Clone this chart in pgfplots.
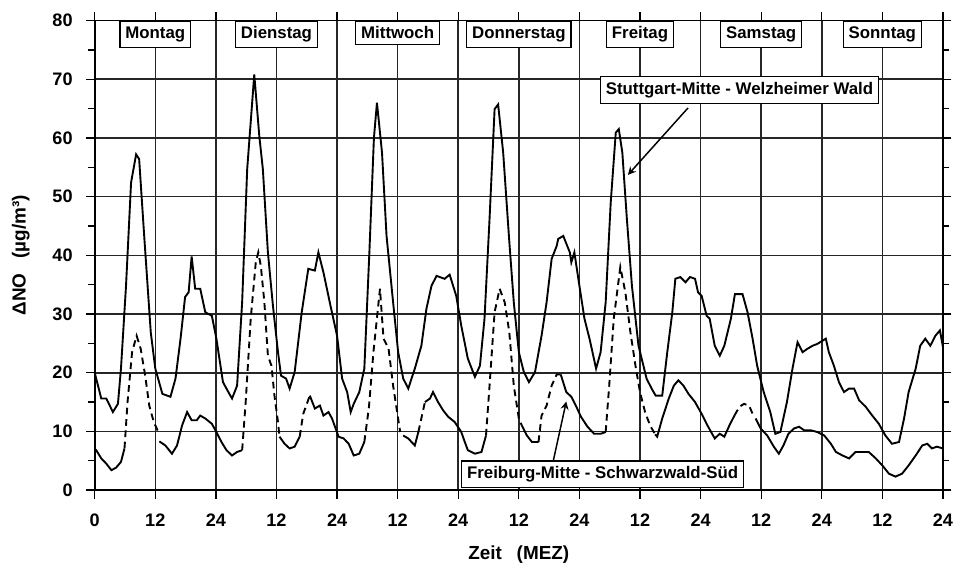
\documentclass[border=0pt]{standalone}
\usepackage{pgfplots}
\pgfplotsset{compat=1.18}
\usepackage{fontspec}
\setmainfont{Liberation Sans}

\tikzset{
  daybox/.style={draw=black, fill=white, line width=0.6pt, inner sep=2.6pt,
    anchor=north, font=\fontsize{8}{9}\selectfont\bfseries},
  notebox/.style={draw=black, fill=white, line width=0.6pt, inner sep=2.6pt,
    font=\fontsize{8}{9}\selectfont\bfseries},
}
\pgfplotsset{
  fr solid/.style={black, line width=0.9pt, forget plot},
  fr dash/.style={black, line width=0.9pt, dash pattern=on 3.2pt off 2.2pt, forget plot},
}

\begin{document}
\begin{tikzpicture}
\begin{axis}[
  scale only axis,
  width=14.18cm, height=7.85cm,
  xmin=0, xmax=168, ymin=0, ymax=80,
  xtick={0,12,...,168},
  xticklabels={0,12,24,12,24,12,24,12,24,12,24,12,24,12,24},
  ytick={0,10,...,80},
  minor y tick num=1,
  grid=major,
  major grid style={black!85, line width=0.75pt},
  axis line style={black, line width=0.8pt},
  tick style={black, line width=0.6pt},
  tick align=outside,
  major tick length=4pt, minor tick length=3pt,
  /pgf/number format/assume math mode=true,
  tick label style={font=\fontsize{8.6}{10}\selectfont\bfseries},
  xticklabel style={yshift=-4pt},
  yticklabel style={xshift=-3pt},
  xlabel={Zeit\hspace{7pt}(MEZ)},
  ylabel={ΔNO\hspace{7pt}(µg/m³)},
  label style={font=\fontsize{9}{10}\selectfont\bfseries},
  xlabel style={yshift=-2pt},
  ylabel style={yshift=4pt},
  clip=false,
]
% Stuttgart-Mitte - Welzheimer Wald
\addplot[black, line width=0.9pt] coordinates {
(0,20)(1.3,15.6)(2.3,15.6)(3.6,13.3)(4.6,14.7)(5.2,20.7)(6.2,34.8)(7.2,52.4)(8.2,57.2)(8.8,56.4)
(9.8,43.3)(11.1,26.9)(12,20.7)(13.4,16.4)(15,15.9)(16,19)(17,25.8)(17.9,32.9)(18.6,33.7)(19.2,39.8)
(19.9,34.3)(20.9,34.3)(21.9,30.3)(23.2,29.7)(24.1,25.8)(25.4,18.4)(26.6,16.5)(27.2,15.6)(28.2,17.8)
(29.2,32)(30.2,54.7)(31.6,70.8)(32.6,60.3)(33.3,54.7)(34.3,40.5)(35.3,31.4)(36.3,23.5)(36.9,19.5)
(37.9,19)(38.6,17.3)(39.6,20.1)(41,30.3)(42.3,37.7)(43.6,37.4)(44.3,40.5)(45.3,37.1)(46.7,31.4)
(48,26.3)(49,19)(50,16.7)(50.7,13.3)(51.3,14.7)(52.4,16.7)(53.4,20.7)(54.4,40.5)(55.3,60)(55.9,66)
(56.9,57.5)(57.8,43.3)(59.1,32)(60.1,23.5)(61.1,19)(62.1,17.3)(63.4,20.7)(64.7,24.6)(65.7,30.9)
(66.7,34.8)(67.7,36.5)(69.3,36)(70.3,36.7)(71.6,33.1)(72.6,28)(73.9,22.4)(75.3,19.3)(76.3,21.2)
(77.2,29.2)(78.2,46.2)(79.2,64.9)(79.9,65.7)(80.9,57.5)(82.1,42.5)(83,32)(84,23.5)(85,20.1)(86,18.4)
(87.2,20.1)(88.5,26.3)(89.5,32)(90.5,39.4)(91.5,41.6)(91.8,42.8)(92.8,43.3)(94.1,40.5)(94.4,38.8)
(95,40.5)(96,34.8)(97,29.2)(98,25.8)(99.3,20.7)(100.2,23.5)(101.2,32)(102.2,49)(103.2,60.9)
(103.8,61.5)(104.5,57.5)(105.4,46.2)(106.4,34.8)(107.7,24.6)(109.3,19)(110.3,17.3)(111.1,16.1)
(112.4,16.1)(113.4,23.5)(114.4,30.3)(115,36)(116,36.3)(117,35.4)(117.9,36.3)(118.9,36)(119.5,33.7)
(120.2,33.1)(121.2,29.7)(121.8,29.2)(122.8,24.6)(123.8,22.9)(124.7,24.6)(126,29.2)(126.8,33.4)
(128.3,33.4)(129.3,30.3)(130.3,25.8)(131.2,21.2)(132.5,16.7)(133.8,13.3)(134.8,9.6)(135.8,9.9)
(137.1,15)(138.2,20.7)(139.2,25.2)(140.2,23.5)(141.2,24.1)(142.2,24.6)(143.1,24.9)(144.8,25.8)
(145.4,23.5)(146.4,21.2)(147.4,18.4)(148.4,16.7)(149.4,17.3)(150.4,17.3)(151.4,15.3)(152.7,14.2)
(154,12.7)(155.3,11.3)(156.6,9.3)(157.9,7.9)(159.3,8.2)(160.3,12.2)(161.2,16.7)(162.6,20.7)
(163.5,24.6)(164.5,25.8)(165.5,24.6)(166.5,26.3)(167.4,27.2)(168,24.4)
};
% Freiburg-Mitte - Schwarzwald-Sued (solid and dashed parts)
\addplot[fr solid] coordinates {(0,7)(0.3,6.8)(1.3,5.4)(2.3,4.5)(3.3,3.4)(4.2,3.8)(5.2,4.8)(5.9,7.1)};
\addplot[fr dash] coordinates {(5.9,7.1)(6.5,15)(7.4,23.5)(8.3,26.3)(9.1,24.1)(10,19.5)(10.8,14.4)(11.7,11.6)(12.6,9.9)};
\addplot[fr solid] coordinates {(12.8,8.3)(14,7.6)(15.3,6.2)(16.3,7.6)(17.3,11)(18.3,13.3)(19.2,11.9)(20.2,11.9)
  (20.9,12.7)(21.9,12.2)(23.2,11.3)(24.1,9.9)(25.1,8.2)(26.1,6.8)(27.2,5.9)(28.2,6.5)(29.2,6.8)};
\addplot[fr dash] coordinates {(29.2,6.8)(29.9,15)(30.9,29.2)(31.9,38.8)(32.4,40.5)(32.9,38.2)(33.6,32)(34.3,22.9)
  (35,21.2)(35.6,16.1)(36.3,11.6)(36.6,9.1)};
\addplot[fr solid] coordinates {(36.6,9.1)(37.6,7.9)(38.6,7.1)(39.6,7.4)(40.6,9.1)};
\addplot[fr dash] coordinates {(40.6,9.1)(41.3,13)(42.6,16.1)};
\addplot[fr solid] coordinates {(42.6,16.1)(43.6,13.9)(44.6,14.4)(45.3,12.7)(46.3,13.3)(47,12.2)(48.3,9.1)(49.3,8.8)
  (50.3,7.9)(51.3,5.9)(52.4,6.2)(53.4,8.2)};
\addplot[fr dash] coordinates {(53.4,8.2)(54.3,14)(55.2,23.5)(56.5,34.3)(57.2,25.8)(58.2,24.1)(59.1,17.8)(60.5,9.9)};
\addplot[fr solid] coordinates {(61.1,9.3)(62.1,8.8)(63.4,7.6)(64.1,9.9)};
\addplot[fr dash] coordinates {(64.1,9.9)(65.4,15)};
\addplot[fr solid] coordinates {(65.4,15)(66.4,15.6)(67,16.7)(68,15)(69,13.6)(70,12.5)(71.3,11.6)(72.6,9.9)
  (73.3,8.2)(73.9,6.8)(75.3,6.2)(76.6,6.5)(77.5,9.3)};
\addplot[fr dash] coordinates {(77.5,9.3)(78.2,17.8)(79.2,30.3)(80.2,34.3)(81.2,32)(82.1,27)(83,17.8)(84,12.2)(84.6,11)};
\addplot[fr solid] coordinates {(84.6,11)(85.6,9.3)(86.6,8.2)(87.9,8.2)};
\addplot[fr dash] coordinates {(87.9,8.2)(88.5,12.7)(89.5,14.4)(90.5,17.8)(91.5,19.7)(92.3,19.7)};
\addplot[fr solid] coordinates {(92.3,19.7)(93.4,16.7)(94.4,15.9)(95.4,14.2)(96.3,12.5)(97.6,10.8)(98.9,9.6)
  (100.2,9.6)(101.2,9.9)};
\addplot[fr dash] coordinates {(101.2,9.9)(101.9,17.8)(102.8,29.2)(104.1,38)(105.1,33.7)(106.1,26.9)(107.1,21.2)
  (108,16.7)(109,13.3)(110,11)(111,9.5)};
\addplot[fr solid] coordinates {(111,9.5)(111.4,9.1)(112.4,12.2)(113.7,15.6)(114.7,17.8)(115.6,18.7)(116.6,17.8)
  (117.6,16.4)(118.9,15)(120.2,13)(121.5,10.8)(122.8,8.8)(123.8,9.6)(124.7,9.1)(125.7,11)(126.7,12.7)};
\addplot[fr dash] coordinates {(126.7,12.7)(127.7,14.2)(128.6,14.7)(129.6,14.4)(130.3,13)};
\addplot[fr solid] coordinates {(130.9,12.2)(131.9,10.5)(133.2,9.3)(134.5,7.4)(135.5,6.2)(136.4,7.6)(137.4,9.6)
  (138.5,10.5)(139.5,10.8)(140.5,10.2)(141.8,10.2)(143.1,9.9)(144.5,9.3)(145.8,7.9)(146.8,6.5)(148.1,5.9)
  (149.4,5.4)(150.7,6.5)(152,6.5)(153.3,6.5)(154.7,5.4)(156,4.2)(157.3,2.8)(158.6,2.3)(159.9,2.8)(161.2,4.2)
  (162.6,5.9)(163.9,7.6)(164.9,7.9)(165.8,7.1)(166.8,7.4)(168,7.1)};

% day labels
\node[daybox] at (axis cs:12,80) {Montag};
\node[daybox] at (axis cs:36,80) {Dienstag};
\node[daybox] at (axis cs:60,80) {Mittwoch};
\node[daybox] at (axis cs:84,80) {Donnerstag};
\node[daybox] at (axis cs:108,80) {Freitag};
\node[daybox] at (axis cs:132,80) {Samstag};
\node[daybox] at (axis cs:156,80) {Sonntag};

% annotations
\node[notebox] at (axis cs:127.7,68.2) {Stuttgart-Mitte - Welzheimer Wald};
\draw[-stealth, line width=0.7pt] (axis cs:117.5,65.1) -- (axis cs:105.6,53.7);
\node[notebox] at (axis cs:100.6,2.7) {Freiburg-Mitte - Schwarzwald-Süd};
\draw[-stealth, line width=0.7pt] (axis cs:90.8,4.9) -- (axis cs:93.4,15.1);

% page extent
\path (axis cs:-18.76,-13.78) rectangle (axis cs:170.76,83.5);
\end{axis}
\end{tikzpicture}
\end{document}
